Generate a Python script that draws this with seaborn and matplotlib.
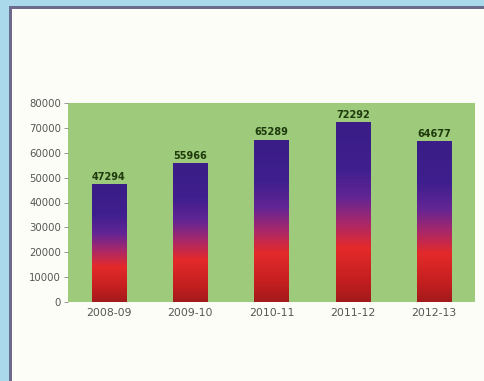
import numpy as np
import pandas as pd
import matplotlib
matplotlib.use("Agg")
import matplotlib.pyplot as plt
from matplotlib.colors import LinearSegmentedColormap
from matplotlib.patches import Rectangle
import seaborn as sns

years = ["2008-09", "2009-10", "2010-11", "2011-12", "2012-13"]
values = [47294, 55966, 65289, 72292, 64677]
y_ticks = [0, 10000, 20000, 30000, 40000, 50000, 60000, 70000, 80000]

sns.set_style("white")
plt.rcParams["font.family"] = ["DejaVu Sans"]

W, H = 484, 381
fig = plt.figure(figsize=(W / 100, H / 100), dpi=100)
fig.patch.set_facecolor("#fdfdf8")

# framed panel: light blue margin with a dark rule along the top and left
fig.patches.append(Rectangle((0, 0), 9 / W, 1, transform=fig.transFigure,
                             facecolor="#a9d9ea", edgecolor="none", zorder=0))
fig.patches.append(Rectangle((0, 1 - 6 / H), 1, 6 / H, transform=fig.transFigure,
                             facecolor="#a9d9ea", edgecolor="none", zorder=0))
fig.patches.append(Rectangle((9 / W, 0), 2.5 / W, 1 - 6 / H, transform=fig.transFigure,
                             facecolor="#6b6c8c", edgecolor="none", zorder=1))
fig.patches.append(Rectangle((9 / W, 1 - 8.5 / H), 1, 2.5 / H, transform=fig.transFigure,
                             facecolor="#6b6c8c", edgecolor="none", zorder=1))

ax = fig.add_axes([68 / W, 1 - 302 / H, 407 / W, 199 / H])
ax.set_facecolor("#9dca7b")

df = pd.DataFrame({"year": years, "value": values})
sns.barplot(data=df, x="year", y="value", ax=ax, width=0.42,
            color="#3b1f8c", edgecolor="none", saturation=1, zorder=2)

cmap = LinearSegmentedColormap.from_list("bar_grad", [
    (0.0, "#a31a1c"),
    (0.12, "#c41f20"),
    (0.30, "#e42a2a"),
    (0.44, "#a8286a"),
    (0.58, "#632594"),
    (0.74, "#3f1f8e"),
    (1.0, "#3a1d86"),
])
grad = np.linspace(0, 1, 256).reshape(-1, 1)
for bar in ax.patches:
    x0 = bar.get_x()
    w = bar.get_width()
    h = bar.get_height()
    im = ax.imshow(grad, cmap=cmap, origin="lower", aspect="auto",
                   extent=[x0, x0 + w, 0, h], zorder=3, interpolation="bilinear")
    im.set_clip_path(bar)
    ax.text(x0 + w / 2, h + 900, f"{int(h)}", ha="center", va="bottom",
            fontsize=7, fontweight="bold", color="#1e3a0c", zorder=4)

ax.set_xlim(-0.5, len(years) - 0.5)
ax.set_ylim(0, 80000)
ax.set_yticks(y_ticks)
ax.set_yticklabels([str(t) for t in y_ticks])
ax.set_xlabel("")
ax.set_ylabel("")
for s in ax.spines.values():
    s.set_visible(False)
ax.tick_params(axis="y", length=3, width=0.6, color="#888888", pad=2,
               labelsize=7.3, labelcolor="#555555", left=True)
ax.tick_params(axis="x", length=0, pad=4, labelsize=7.8, labelcolor="#555555")

fig.savefig("out.png", dpi=100, facecolor=fig.get_facecolor())
